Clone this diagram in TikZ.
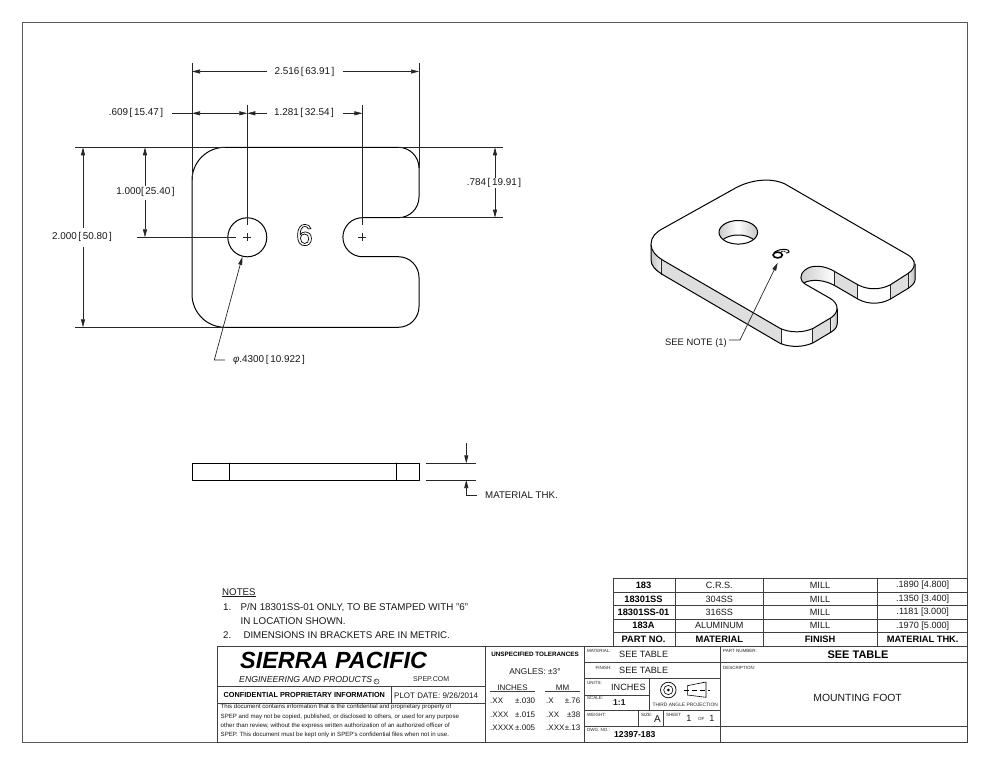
\documentclass[tikz,border=0pt]{standalone}
\usepackage{fontspec}
\setmainfont{Liberation Sans}
\usetikzlibrary{arrows.meta}
\newcommand{\fs}[1]{\fontsize{#1}{#1}\selectfont}
\newcommand{\lbl}[3]{\node[small,anchor=west] at (#1,#2) {#3};}
\tikzset{
  dimline/.style={line width=.7pt,draw=black!85},
  tip/.tip={Triangle[length=8pt,width=4pt]},
  edge/.style={line width=1pt,draw=black,line cap=round,line join=round},
  frameline/.style={line width=1pt,draw=black!65},
  tb/.style={line width=.9pt,draw=black!75},
  dimtxt/.style={inner sep=0pt,font=\fs{9.9},text=black!90},
  tab/.style={inner sep=0pt,font=\fs{9.1},text=black!90},
  tabb/.style={inner sep=0pt,font=\fs{9.3}\bfseries,text=black},
  small/.style={inner sep=0pt,font=\fs{4.5},text=black!85},
  mid/.style={inner sep=0pt,font=\fs{8},text=black!90},
  note/.style={inner sep=0pt,font=\fs{9.7},text=black!90,anchor=west},
  legal/.style={inner sep=0pt,font=\fs{6.1},text=black!90,anchor=west},
  divider/.style={line width=.9pt,draw=black!85},
  grayw/.style={fill=black!13},
}
\begin{document}
\begin{tikzpicture}[x=1pt,y=-1pt]
\useasboundingbox (0,0) rectangle (990,765);
\fill[white] (0,0) rectangle (990,765);
% frame
\draw[frameline] (22.3,22.3) rectangle (967.7,742.5);

% ---------- front view
\draw[edge] (192,180.3) arc[start angle=180,end angle=270,radius=33] -- (398.3,147.3)
  arc[start angle=270,end angle=360,radius=20.7] -- (419,197)
  arc[start angle=0,end angle=90,radius=20.7] -- (362.4,217.7)
  arc[start angle=270,end angle=90,radius=19.5] -- (398.3,256.7)
  arc[start angle=270,end angle=360,radius=20.7] -- (419,306.6)
  arc[start angle=0,end angle=90,radius=20.7] -- (225,327.3)
  arc[start angle=90,end angle=180,radius=33] -- cycle;
\draw[edge] (247.3,237.3) circle[radius=19.5];
\node[inner sep=0pt,font=\fs{30}] (six) at (304.4,235) {\special{pdf:code 1 Tr 0.7 w}6\special{pdf:code 0 Tr}};
% centre marks and extension lines
\draw[dimline] (243.3,237.3) -- (251.3,237.3) (247.3,233.3) -- (247.3,241.3);
\draw[dimline] (358.4,237.3) -- (366.4,237.3) (362.4,233.3) -- (362.4,241.3);
\draw[dimline] (192,63) -- (192,180);
\draw[dimline] (419,63) -- (419,168);
\draw[dimline] (247.3,105) -- (247.3,225);
\draw[dimline] (362.4,105) -- (362.4,225);
\draw[dimline] (75,147.3) -- (225,147.3);
\draw[dimline] (398,147.3) -- (503,147.3);
\draw[dimline] (75,327.3) -- (225,327.3);
\draw[dimline] (136.7,237.3) -- (236,237.3);
\draw[dimline] (400,217.7) -- (503,217.7);
% horizontal dimensions
\draw[dimline,{tip}-] (192,71.5) -- (267,71.5);
\draw[dimline,-{tip}] (343,71.5) -- (419,71.5);
\node[dimtxt] (d1) at (304.5,71.5) {2.516\,[\,63.91\,]};
\draw[dimline] (172,113.3) -- (192,113.3);
\draw[dimline,{tip}-{tip}] (192,113.3) -- (247.3,113.3);
\draw[dimline,{tip}-] (247.3,113.3) -- (267,113.3);
\draw[dimline,-{tip}] (343,113.3) -- (362.4,113.3);
\node[dimtxt] (d2) at (136,113.3) {.609\,[\,15.47\,]};
\node[dimtxt] (d3) at (304,113.3) {1.281\,[\,32.54\,]};
% vertical dimensions
\draw[dimline,{tip}-] (83,147.3) -- (83,228);
\draw[dimline,-{tip}] (83,247) -- (83,327.3);
\node[dimtxt] (d4) at (82,237.3) {2.000\,[\,50.80\,]};
\draw[dimline,{tip}-] (145,147.3) -- (145,186);
\draw[dimline,-{tip}] (145,200) -- (145,237.3);
\node[dimtxt] (d5) at (145.5,192.3) {1.000[\,25.40\,]};
\draw[dimline,{tip}-] (495,147.3) -- (495,178);
\draw[dimline,-{tip}] (495,188) -- (495,217.7);
\node[dimtxt] (d6) at (494,183) {.784\,[\,19.91\,]};
% hole leader
\coordinate (hl) at (242.3,256.9);
\draw[dimline,{tip}-] (hl) -- (214.3,360) -- (225,360);
\node[dimtxt] (d7) at (269,360) {\itshape φ\upshape.4300\,[\,10.922\,]};

% ---------- side view
\draw[edge] (192,463) rectangle (419,480);
\draw[edge] (229,463) -- (229,480) (396.3,463) -- (396.3,480);
\draw[dimline] (425.7,463.3) -- (475.7,463.3) (425.7,480) -- (475.7,480);
\draw[dimline,-{tip}] (466.3,443) -- (466.3,463.3);
\draw[dimline,{tip}-] (466.3,480) -- (466.3,495) -- (476.7,495);
\node[dimtxt,anchor=west,font=\fs{9.7}] (d8) at (485,495) {MATERIAL THK.};

% ---------- isometric view
\begin{scope}
\clip (651,244.3) .. controls (651,237) and (656,232) .. (663.3,228.3)
  -- (735,188.3) .. controls (750,180) and (770,177) .. (785,184) -- (908,255)
  .. controls (912,257.5) and (915,260) .. (915,264) -- (915,280)
  .. controls (915,283) and (912,285.5) .. (908.3,288.3) -- (890,299.3)
  .. controls (880,304.5) and (868,304.5) .. (858.3,299.3) -- (835,285.7)
  .. controls (825,280) and (812,278.5) .. (803.5,283) -- (830,298.3)
  .. controls (835,301) and (837.3,305) .. (837.3,309) -- (837.3,323)
  .. controls (837.3,327) and (835,329.5) .. (831.7,331.7) -- (813.3,342.7)
  .. controls (803,347.5) and (790,347.5) .. (780,343.3) -- (663.3,275)
  .. controls (656,270.5) and (651,266) .. (651,260) -- cycle;
\fill[left color=black!25,right color=black!6] (650,230) rectangle (661.7,290);
\fill[grayw] (661.7,230) rectangle (781,350);
\fill[left color=white,right color=black!4,middle color=white] (781,300) rectangle (812.7,350);
\fill[grayw] (812.7,300) rectangle (830.7,350);
\fill[left color=black!8,right color=black!25] (830.7,300) rectangle (838,350);
\fill[left color=black!20,right color=white] (800,260) rectangle (834.3,299);
\fill[grayw] (834.3,260) rectangle (857.7,305);
\fill[white] (857.7,260) rectangle (890,310);
\fill[grayw] (890,260) rectangle (908.3,305);
\fill[left color=black!10,right color=black!28] (908.3,260) rectangle (916,300);
\end{scope}
\draw[divider] (661.7,258.3) -- (661.7,274.5) (781,329) -- (781,343.6) (812.7,328.6) -- (812.7,342.9)
  (830.7,318) -- (830.7,332) (834.3,271.2) -- (834.3,285.3) (857.7,285) -- (857.7,299)
  (890,285) -- (890,299.3) (908.3,273.3) -- (908.3,288.3);
\draw[edge] (651,244.3) -- (651,260) .. controls (651,266) and (656,270.5) .. (663.3,275)
  -- (780,343.3) .. controls (790,347.5) and (803,347.5) .. (813.3,342.7) -- (831.7,331.7)
  .. controls (835,329.5) and (837.3,327) .. (837.3,323) -- (837.3,309);
\draw[edge] (915,264) -- (915,280) .. controls (915,283) and (912,285.5) .. (908.3,288.3) -- (890,299.3)
  .. controls (880,304.5) and (868,304.5) .. (858.3,299.3) -- (835,285.7)
  .. controls (825,280) and (812,278.5) .. (803.5,283);
\draw[edge,fill=white] (651,244.3) .. controls (651,237) and (656,232) .. (663.3,228.3)
  -- (735,188.3) .. controls (750,180) and (770,177) .. (785,184) -- (908,255)
  .. controls (915,259) and (917.5,267) .. (908.3,273.3) -- (890,285)
  .. controls (880,290) and (868,290) .. (858.3,285) -- (835,271.7)
  .. controls (825,265.5) and (812,264) .. (805,270)
  .. controls (799,275) and (800,281) .. (805,284) -- (830,298.3)
  .. controls (838,303) and (840,311) .. (831.7,317.3) -- (813.3,328.3)
  .. controls (803,333) and (790,333) .. (780,328.3) -- (663.3,260.5)
  .. controls (656,256) and (651,251) .. cycle;
% hole in the isometric view
\begin{scope}
\clip (738.3,232.3) ellipse[x radius=19.3,y radius=11.8];
\fill[left color=black!25,right color=black!25,middle color=white] (715,215) rectangle (760,250);
\draw[edge,fill=white] (738.3,246.8) ellipse[x radius=19.3,y radius=11.8];
\end{scope}
\draw[edge] (738.3,232.3) ellipse[x radius=19.3,y radius=11.8];
% stamped figure
\draw[line width=1.6pt] (777.7,255) ellipse[x radius=4.6,y radius=2.9];
\draw[line width=1pt] (774,252.5) .. controls (778,249.5) and (784,248.5) .. (788,250) .. controls (790,251) and (789.5,253) .. (786,253);
\draw[line width=.6pt] (781,251.5) .. controls (783,250.5) and (785.5,251) .. (785.5,252);
% note leader
\coordinate (sl) at (777.7,262.7);
\draw[dimline,{tip}-] (sl) -- (740,340) -- (729,340);
\node[dimtxt,anchor=west,font=\fs{9.4}] (sn) at (665,343) {SEE NOTE (1)};

% ---------- notes
\node[note] (n0) at (222,592.7) {\underline{NOTES}};
\node[note] (n1a) at (223,607.5) {1.};
\node[note,font=\fs{9.8}] (n1b) at (240.5,607.5) {P/N 18301SS-01 ONLY, TO BE STAMPED WITH "6"};
\node[note,font=\fs{9.8}] (n1c) at (240.5,621) {IN LOCATION SHOWN.};
\node[note] (n2a) at (223,635.5) {2.};
\node[note] (n2b) at (243.3,635.5) {DIMENSIONS IN BRACKETS ARE IN METRIC.};

% ---------- parts table
\draw[tb] (613.3,578.7) rectangle (967.7,646.7);
\foreach \yy in {592.3,605.7,619,632.3} \draw[tb] (613.3,\yy) -- (967.7,\yy);
\foreach \xx in {675.3,763.3,877.3} \draw[tb] (\xx,578.7) -- (\xx,646.7);
\foreach \yy/\a/\b/\c/\d in {585.5/183/C.R.S./MILL/.1890 [4.800],
  599/18301SS/304SS/MILL/.1350 [3.400],
  612.4/18301SS-01/316SS/MILL/.1181 [3.000],
  625.7/183A/ALUMINUM/MILL/.1970 [5.000]}{
  \node[tabb] at (643.5,\yy) {\a};
  \node[tab] at (719.3,\yy) {\b};
  \node[tab] at (820,\yy) {\c};
  \node[tab] at (922.7,\yy) {\d};
}
\node[tabb] (h1) at (643.5,639.5) {PART NO.};
\node[tabb] (h2) at (719.3,639.5) {MATERIAL};
\node[tabb] (h3) at (820,639.5) {FINISH};
\node[tabb] (h4) at (922.7,639.5) {MATERIAL THK.};

% ---------- title block lines
\draw[tb] (217.7,646.7) rectangle (967.7,742.5);
\draw[tb] (217.7,686) -- (485,686) (217.7,703) -- (485,703) (391,686) -- (391,703);
\draw[tb] (485,646.7) -- (485,742.5) (584.3,646.7) -- (584.3,742.5) (720,646.7) -- (720,742.5);
\draw[tb] (584.3,662.7) -- (967.7,662.7) (584.3,678.3) -- (720,678.3);
\draw[tb] (584.3,695) -- (649,695) (649,678.3) -- (649,710) (584.3,710) -- (720,710);
\draw[tb] (584.3,726.7) -- (967.7,726.7) (638.3,710) -- (638.3,726.7) (663.3,710) -- (663.3,726.7);

% left block text
\node[inner sep=0pt,anchor=west,font=\fs{23.4}\bfseries\itshape] (t1) at (240,660.7) {SIERRA PACIFIC};
\node[inner sep=0pt,anchor=west,font=\fs{8.7}\itshape,text=black!90] (t2) at (239,679) {ENGINEERING AND PRODUCTS};
\node[draw=black,circle,line width=.4pt,inner sep=.6pt,font=\fs{3.5}] (t3) at (376.5,681.5) {C};
\node[inner sep=0pt,anchor=west,font=\fs{7},text=black!85] (t4) at (413,679) {SPEP.COM};
\node[inner sep=0pt,anchor=west,font=\fs{7.3}\bfseries] (t5) at (223.5,695.3) {CONFIDENTIAL PROPRIETARY INFORMATION};
\node[inner sep=0pt,anchor=west,font=\fs{8},text=black!90] (t6) at (394,695.3) {PLOT DATE: 9/26/2014};
\node[legal] (l1) at (220.5,707.3) {This document contains information that is the confidential and proprietary property of};
\node[legal] (l2) at (220.5,716.6) {SPEP and may not be copied, published, or disclosed to others, or used for any purpose};
\node[legal] (l3) at (220.5,725.8) {other than review, without the express written authorization of an authorized officer of};
\node[legal] (l4) at (220.5,735) {SPEP. This document must be kept only in SPEP's confidential files when not in use.};

% tolerances
\node[inner sep=0pt,font=\fs{6.3}\bfseries] (u1) at (535,654) {UNSPECIFIED TOLERANCES};
\node[mid,font=\fs{8.4}] (u2) at (535,671.7) {ANGLES:  ±3°};
\node[mid] (u3) at (512.5,687.5) {INCHES};
\node[mid] (u4) at (562.5,687.5) {MM};
\draw[tb] (490,691.7) -- (535,691.7) (545,691.7) -- (580,691.7);
\foreach \yy/\a/\b/\c/\d in {701/.XX/±.030/.X/±.76, 714.3/.XXX/±.015/.XX/±38, 727.3/.XXXX/±.005/.XXX/±.13}{
  \node[mid,anchor=west] at (490,\yy) {\a};
  \node[mid,anchor=west] at (515,\yy) {\b};
  \node[mid,anchor=west] at (546,\yy) {\c};
  \node[mid,anchor=east] at (580.5,\yy) {\d};
}

% middle block text
\lbl{587}{651}{MATERIAL:}
\node[tab,anchor=west] (m1) at (619,654.7) {SEE TABLE};
\lbl{595.5}{667.5}{FINISH:}
\node[tab,anchor=west] (m2) at (619,670.7) {SEE TABLE};
\lbl{587}{682.5}{UNITS:}
\node[tab,anchor=west] (m3) at (611,687) {INCHES};
\lbl{587}{697.5}{SCALE:}
\node[tab,anchor=west,font=\fs{8.6}\bfseries] (m4) at (613,703) {1:1};
\lbl{587}{714.5}{WEIGHT:}
\lbl{641}{714.5}{SIZE:}
\node[tab,font=\fs{10}] (m5) at (657.5,719) {A};
\lbl{666}{714.5}{SHEET}
\node[tab] (m6) at (689,718.5) {1};
\lbl{698}{718.5}{OF}
\node[tab] (m7) at (712,718.5) {1};
\lbl{587}{729.5}{DWG. NO.:}
\node[inner sep=0pt,anchor=west,font=\fs{8.6}\bfseries] (m8) at (614,734.5) {12397-183};
\node[inner sep=0pt,font=\fs{4.85},text=black!85] (m9) at (685.2,705) {THIRD ANGLE PROJECTION};
% projection symbol
\draw[line width=.7pt] (668.3,690) circle[radius=7.8];
\draw[line width=.6pt] (668.3,690) circle[radius=4.6];
\fill (668.3,690) circle[radius=1.5];
\draw[line width=.6pt] (687.3,685.7) -- (706,682) -- (706,697.3) -- (687.3,695) -- cycle;
\draw[line width=.6pt,dash pattern=on 5pt off 3pt] (684,690) -- (710,690);

% right block text
\lbl{723}{651}{PART NUMBER:}
\node[inner sep=0pt,font=\fs{11}\bfseries] (r1) at (858,654.5) {SEE TABLE};
\lbl{723}{667.5}{DESCRIPTION:}
\node[inner sep=0pt,font=\fs{10.4},text=black!90] (r2) at (857.6,697.5) {MOUNTING FOOT};
\end{tikzpicture}
\end{document}
